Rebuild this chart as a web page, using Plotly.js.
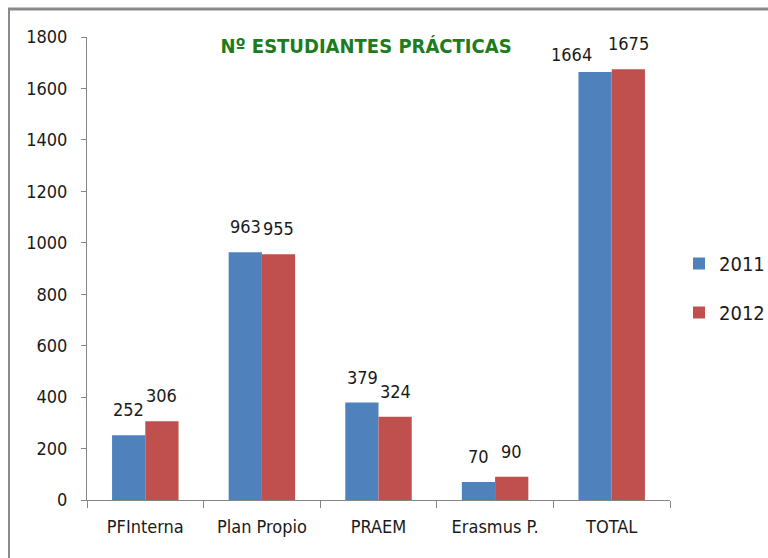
<!DOCTYPE html>
<html>
<head>
<meta charset="utf-8">
<script src="https://cdn.plot.ly/plotly-3.0.1.min.js"></script>
<style>
html,body{margin:0;padding:0;background:#fff;}
#chart{width:768px;height:558px;}
</style>
</head>
<body>
<div id="chart"></div>
<script>
const categories = ["PFInterna", "Plan Propio", "PRAEM", "Erasmus P.", "TOTAL"];
const values2011 = [252, 963, 379, 70, 1664];
const values2012 = [306, 955, 324, 90, 1675];
const seriesNames = ["2011", "2012"];
const yTicks = [0, 200, 400, 600, 800, 1000, 1200, 1400, 1600, 1800];

function pickFont(cands) {
  const c = document.createElement('canvas').getContext('2d');
  const s = 'abcdefghij0123456789 PFInterna';
  for (const f of cands) {
    let ok = false;
    for (const base of ['monospace', 'serif']) {
      c.font = '40px ' + base; const w0 = c.measureText(s).width;
      c.font = "40px '" + f + "', " + base; const w1 = c.measureText(s).width;
      if (Math.abs(w1 - w0) > 0.5) ok = true;
    }
    if (ok) return f;
  }
  return 'sans-serif';
}
const FONTNAME = pickFont(['Liberation Sans Narrow', 'DejaVu Sans Condensed', 'Liberation Sans']);
const FONT = "'" + FONTNAME + "', sans-serif";
const narrow = FONTNAME === 'Liberation Sans Narrow';
const FS = narrow ? 21 : 18;

const W = 768, H = 558;
const M = {l: 87, r: 98, t: 37, b: 58, autoexpand: false};
const pw = W - M.l - M.r, ph = H - M.t - M.b;
const px = x => (x - M.l) / pw;
const py = y => (H - M.b - y) / ph;

const BLUE = '#4F81BD', RED = '#C0504D', TXT = '#1a1a1a';

const traces = [
  {type: 'bar', name: seriesNames[0], x: categories, y: values2011, legendgroup: 'a',
   marker: {color: BLUE}, hoverinfo: 'x+y'},
  {type: 'bar', name: seriesNames[1], x: categories, y: values2012, legendgroup: 'b',
   marker: {color: RED}, hoverinfo: 'x+y'}
];

// value labels placed above each bar via the axis scales
const half = 16.5; // half bar width in px
const annotations = [];
categories.forEach((c, i) => {
  const overlap = Math.abs(values2011[i] - values2012[i]) < 30 && values2011[i] > 1500;
  annotations.push({x: c, y: values2011[i], xref: 'x', yref: 'y', text: String(values2011[i]),
    showarrow: false, xanchor: 'center', yanchor: 'bottom',
    xshift: overlap ? -half - 24 : -half, yshift: overlap ? 5 : 13,
    font: {family: FONT, size: FS, color: TXT}});
  annotations.push({x: c, y: values2012[i], xref: 'x', yref: 'y', text: String(values2012[i]),
    showarrow: false, xanchor: 'center', yanchor: 'bottom',
    xshift: half, yshift: 13,
    font: {family: FONT, size: FS, color: TXT}});
});

const layout = {
  width: W, height: H,
  margin: M,
  paper_bgcolor: '#ffffff', plot_bgcolor: '#ffffff',
  font: {family: FONT, size: FS, color: TXT},
  barmode: 'group', bargap: 0.43, bargroupgap: 0,
  title: {text: 'Nº ESTUDIANTES PRÁCTICAS', x: px(366), xref: 'paper', xanchor: 'center',
          y: 1 - 46 / H, yref: 'container', yanchor: 'middle',
          font: {family: FONT, size: narrow ? 22 : 20, color: '#1E7B1E', weight: 'bold'}},
  xaxis: {type: 'category', showgrid: false, showline: true, linecolor: '#868686', linewidth: 1,
          ticks: 'outside', tickson: 'boundaries', ticklen: 7, tickcolor: '#868686',
          ticklabelstandoff: 10, tickfont: {family: FONT, size: FS, color: TXT},
          zeroline: false, fixedrange: true},
  yaxis: {range: [0, 1800], tickvals: yTicks, showgrid: false, showline: true, linecolor: '#868686',
          linewidth: 1, ticks: 'outside', ticklen: 5, tickcolor: '#868686', zeroline: false,
          ticklabelstandoff: 10, tickfont: {family: FONT, size: FS, color: TXT}},
  legend: {x: px(679), xanchor: 'left', y: py(288), yanchor: 'middle', traceorder: 'grouped',
           tracegroupgap: 20, font: {family: FONT, size: 20, color: TXT},
           bgcolor: 'rgba(0,0,0,0)', itemwidth: 30},
  showlegend: true,
  annotations: annotations,
  shapes: [
    {type: 'line', xref: 'paper', yref: 'paper', x0: px(8), x1: px(770), y0: py(9), y1: py(9),
     line: {color: '#8a8a8a', width: 3}},
    {type: 'line', xref: 'paper', yref: 'paper', x0: px(9), x1: px(9), y0: py(8), y1: py(560),
     line: {color: '#8a8a8a', width: 2}}
  ]
};

Plotly.newPlot('chart', traces, layout, {displayModeBar: false, staticPlot: true});
</script>
</body>
</html>
